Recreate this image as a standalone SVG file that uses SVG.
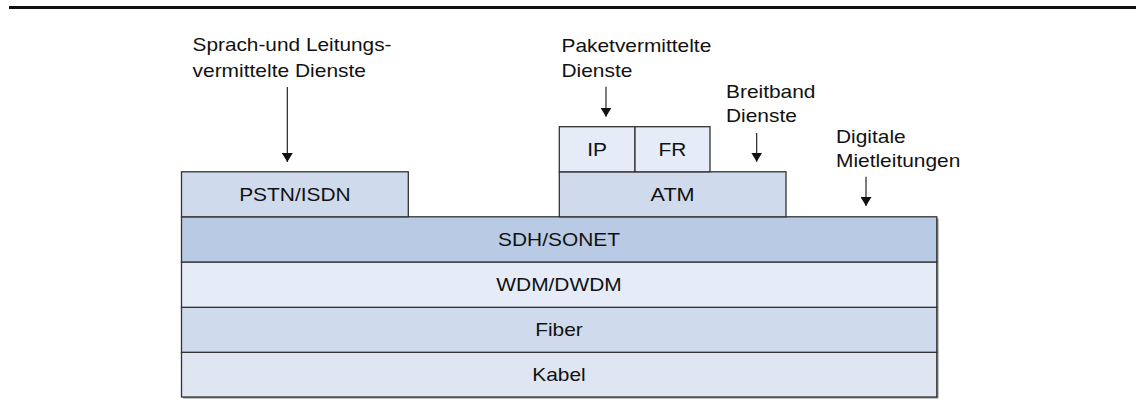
<svg xmlns="http://www.w3.org/2000/svg" width="1136" height="410" viewBox="0 0 1136 410">
<style>
  .lbl{font-family:"Liberation Sans",Arial,sans-serif;font-size:18.5px;fill:#111;}
  .mid{text-anchor:middle;}
  .box{stroke:#333;stroke-width:1.3;}
  .conn{stroke:#111;stroke-width:1.1;fill:none;}
  .c1{fill:#cfdbed;}
  .c2{fill:#b9cbe4;}
  .c3{fill:#e5ecf7;}
  .c4{fill:#dfe6f2;}
</style>
<defs>
  <marker id="ah" viewBox="0 0 9 11" refX="9" refY="5.5" markerWidth="9" markerHeight="11" markerUnits="userSpaceOnUse" orient="auto">
    <path d="M0,0 L9,5.5 L0,11 z" fill="#111"/>
  </marker>
</defs>
<rect x="0" y="0" width="1136" height="410" fill="#fff"/>
<line x1="9" y1="7.5" x2="1136" y2="7.5" stroke="#111" stroke-width="3"/>

<!-- shadow of stack -->
<rect x="183" y="218.5" width="755.5" height="180" fill="#8a8a8a"/>

<g id="kabel">
  <rect class="box c4" x="181.5" y="352.3" width="755.3" height="44.7"/>
  <text class="lbl mid" x="559" y="380.5" textLength="53.4" lengthAdjust="spacingAndGlyphs">Kabel</text>
</g>
<g id="fiber">
  <rect class="box c1" x="181.5" y="307.3" width="755.3" height="45"/>
  <text class="lbl mid" x="559" y="335.5" textLength="47.6" lengthAdjust="spacingAndGlyphs">Fiber</text>
</g>
<g id="wdm">
  <rect class="box c3" x="181.5" y="262" width="755.3" height="45.3"/>
  <text class="lbl mid" x="559" y="290.5" textLength="125.4" lengthAdjust="spacingAndGlyphs">WDM/DWDM</text>
</g>
<g id="sdh">
  <rect class="box c2" x="181.5" y="216.8" width="755.3" height="45.2"/>
  <text class="lbl mid" x="559" y="245.5" textLength="121.9" lengthAdjust="spacingAndGlyphs">SDH/SONET</text>
</g>
<g id="pstn">
  <rect class="box c1" x="181.5" y="171.8" width="226.8" height="45"/>
  <text class="lbl mid" x="294.9" y="200.5" textLength="111.5" lengthAdjust="spacingAndGlyphs">PSTN/ISDN</text>
</g>
<g id="atm">
  <rect class="box c1" x="559.3" y="171.8" width="226.7" height="45"/>
  <text class="lbl mid" x="672.6" y="200.5" textLength="44.1" lengthAdjust="spacingAndGlyphs">ATM</text>
</g>
<g id="ip">
  <rect class="box c3" x="559.3" y="126.7" width="75.7" height="45.1"/>
  <text class="lbl mid" x="597.2" y="155.8" textLength="19.8" lengthAdjust="spacingAndGlyphs">IP</text>
</g>
<g id="fr">
  <rect class="box c3" x="635" y="126.7" width="75" height="45.1"/>
  <text class="lbl mid" x="672.5" y="155.8" textLength="27.9" lengthAdjust="spacingAndGlyphs">FR</text>
</g>

<g id="label-sprach">
  <text class="lbl" x="192.5" y="50.5" textLength="199" lengthAdjust="spacingAndGlyphs">Sprach-und Leitungs-</text>
  <text class="lbl" x="192.5" y="77" textLength="173.5" lengthAdjust="spacingAndGlyphs">vermittelte Dienste</text>
</g>
<g id="label-paket">
  <text class="lbl" x="561.5" y="51.7" textLength="149.8" lengthAdjust="spacingAndGlyphs">Paketvermittelte</text>
  <text class="lbl" x="561.5" y="76.7" textLength="70.9" lengthAdjust="spacingAndGlyphs">Dienste</text>
</g>
<g id="label-breitband">
  <text class="lbl" x="726" y="98.3" textLength="89.5" lengthAdjust="spacingAndGlyphs">Breitband</text>
  <text class="lbl" x="726" y="121.7" textLength="70.9" lengthAdjust="spacingAndGlyphs">Dienste</text>
</g>
<g id="label-digitale">
  <text class="lbl" x="836" y="143.3" textLength="69.7" lengthAdjust="spacingAndGlyphs">Digitale</text>
  <text class="lbl" x="836" y="166.7" textLength="124.3" lengthAdjust="spacingAndGlyphs">Mietleitungen</text>
</g>

<g id="connectors">
  <line class="conn" x1="287.3" y1="87" x2="287.3" y2="162" marker-end="url(#ah)"/>
  <line class="conn" x1="606" y1="86.7" x2="606" y2="116.7" marker-end="url(#ah)"/>
  <line class="conn" x1="756.7" y1="133" x2="756.7" y2="161.7" marker-end="url(#ah)"/>
  <line class="conn" x1="866" y1="176.7" x2="866" y2="206" marker-end="url(#ah)"/>
</g>
</svg>
